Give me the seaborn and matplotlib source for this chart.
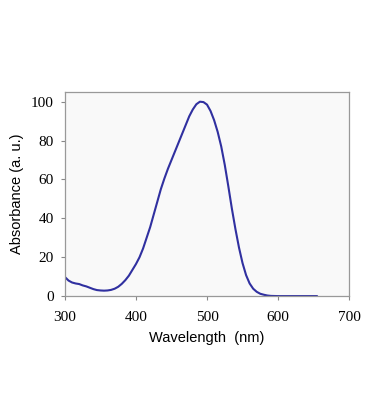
import numpy as np
import pandas as pd
import matplotlib
matplotlib.use('Agg')
import matplotlib.pyplot as plt
import seaborn as sns

# absorption spectrum
wavelength = [300, 305, 310, 315, 320, 325, 330, 335, 340, 345, 350, 355, 360, 365,
              370, 375, 380, 385, 390, 395, 400, 405, 410, 415, 420, 425, 430, 435,
              440, 445, 450, 455, 460, 465, 470, 475, 480, 485, 490, 495, 500, 505,
              510, 515, 520, 525, 530, 535, 540, 545, 550, 555, 560, 565, 570, 575,
              580, 585, 590, 600, 620, 655]
absorbance = [9.8, 8.0, 7.0, 6.5, 6.2, 5.5, 5.0, 4.3, 3.6, 3.1, 2.9, 2.8, 2.9, 3.2,
              3.8, 4.8, 6.3, 8.2, 10.5, 13.5, 16.5, 20.0, 24.5, 30.0, 35.5, 42.0, 48.5, 55.0,
              60.5, 65.5, 70.0, 74.5, 79.0, 83.5, 88.0, 92.5, 96.0, 98.7, 100.0, 99.8, 98.5, 95.2,
              90.5, 84.5, 77.0, 67.5, 56.5, 45.0, 34.5, 25.0, 17.0, 10.8, 6.5, 3.8, 2.2, 1.2,
              0.7, 0.3, 0.1, 0.0, 0.0, 0.0]
xticks = [300, 400, 500, 600, 700]
yticks = [0, 20, 40, 60, 80, 100]

df = pd.DataFrame({'wl': wavelength, 'abs': absorbance})

sns.set_style('white')
fig = plt.figure(figsize=(3.69, 4.2), dpi=100)
ax = fig.add_axes([0.176, 0.295, 0.770, 0.486])
ax.set_facecolor('#f9f9f9')

sns.lineplot(data=df, x='wl', y='abs', ax=ax, color='#3030a0', linewidth=1.5)

ax.set_xlim(300, 700)
ax.set_ylim(0, 105)
ax.set_xticks(xticks)
ax.set_yticks(yticks)
ax.set_xticklabels([str(t) for t in xticks], family='Liberation Serif', fontsize=11)
ax.set_yticklabels([str(t) for t in yticks], family='Liberation Serif', fontsize=11)
ax.tick_params(axis='both', bottom=True, left=True, direction='out', length=3, width=0.8,
               color='#888888', labelcolor='black', pad=5)
ax.tick_params(axis='x', pad=8)
for s in ax.spines.values():
    s.set_color('#999999')
    s.set_linewidth(0.9)

ax.set_xlabel('Wavelength  (nm)', family='Liberation Sans', fontsize=10.5, labelpad=5, color='black')
ax.set_ylabel('Absorbance (a. u.)', family='Liberation Sans', fontsize=10.5, labelpad=5, color='black')

fig.savefig('out.png', dpi=100, facecolor='white')
